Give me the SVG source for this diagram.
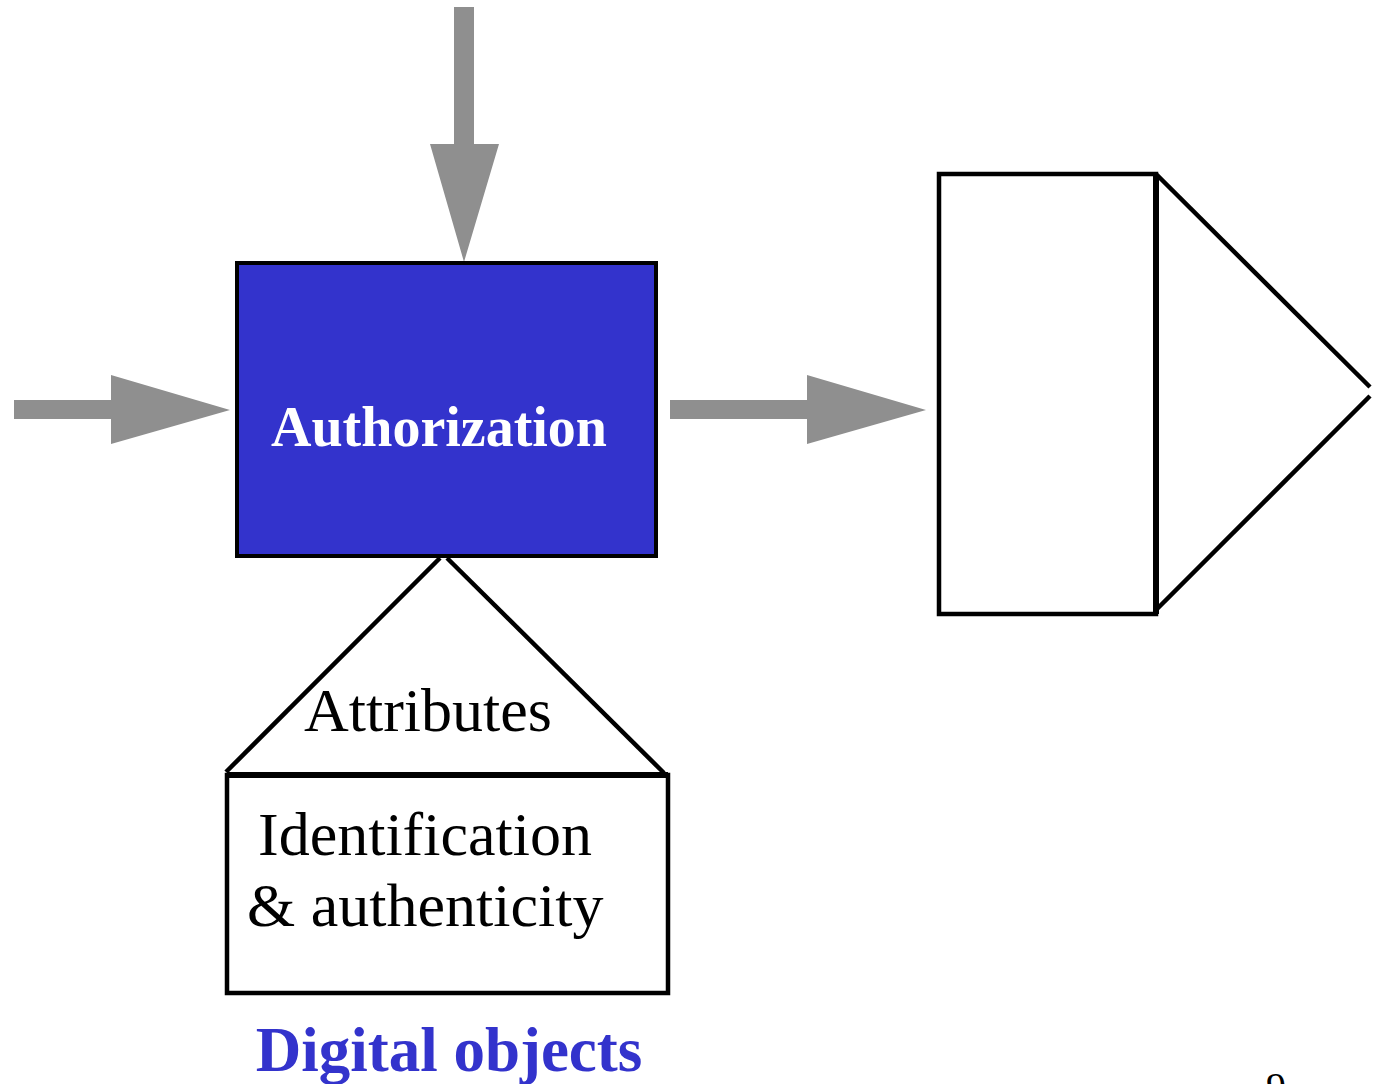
<svg xmlns="http://www.w3.org/2000/svg" width="1378" height="1084" viewBox="0 0 1378 1084">
  <style>
    .arrow { fill: #8f8f8f; }
    .line { fill: none; stroke: #000; stroke-width: 4.5; }
    .serif { font-family: "Liberation Serif", "Times New Roman", serif; }
    .label { font-size: 62px; fill: #000; }
  </style>
  <rect width="1378" height="1084" fill="#fff"/>

  <g id="connectors">
    <!-- input from the left -->
    <polygon class="arrow" points="14,400 111,400 111,375 230,410 111,444 111,419 14,419"/>
    <!-- input from above -->
    <polygon class="arrow" points="454,7 474,7 474,144 499,144 464,262 430,144 454,144"/>
    <!-- output to the right -->
    <polygon class="arrow" points="670,400 807,400 807,375 926,410 807,444 807,419 670,419"/>
  </g>

  <g id="authorization">
    <rect x="237" y="263" width="419" height="293" fill="#3333cc" stroke="#000" stroke-width="4"/>
    <text class="serif" x="439" y="446" font-size="56" font-weight="bold" fill="#fff" text-anchor="middle">Authorization</text>
  </g>

  <g id="attributes">
    <line class="line" x1="440" y1="558" x2="226" y2="772"/>
    <line class="line" x1="447" y1="558" x2="664" y2="773"/>
    <text class="serif label" x="304" y="731" font-size="61">Attributes</text>
  </g>

  <g id="identification">
    <rect x="227" y="775" width="441" height="218" class="line"/>
    <line x1="227" y1="775" x2="668" y2="775" stroke="#000" stroke-width="6"/>
    <text class="serif label" x="258" y="855">Identification</text>
    <text class="serif label" x="247" y="926">&amp; authenticity</text>
  </g>

  <g id="output">
    <rect x="939" y="174" width="217" height="440" class="line"/>
    <line x1="1156" y1="174" x2="1156" y2="614" stroke="#000" stroke-width="6"/>
    <line class="line" x1="1156" y1="174" x2="1370" y2="387"/>
    <line class="line" x1="1370" y1="396" x2="1156" y2="610"/>
  </g>

  <g id="caption">
    <text class="serif" x="449" y="1071" font-size="63" font-weight="bold" fill="#3333cc" text-anchor="middle">Digital objects</text>
  </g>

  <g id="page-number">
    <text class="serif" x="1276" y="1100" font-size="40" fill="#000" text-anchor="middle">9</text>
  </g>
</svg>
